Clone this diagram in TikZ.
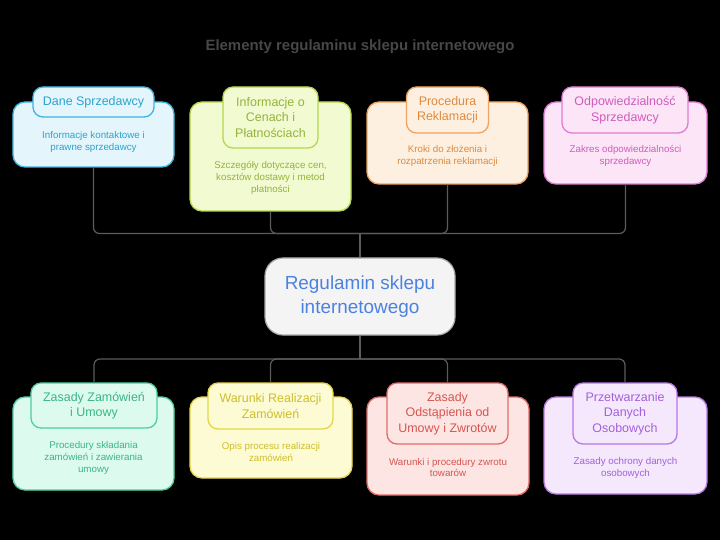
\documentclass[tikz,border=0pt]{standalone}
\usepackage{fontspec}
\setmainfont{Liberation Sans}
\usetikzlibrary{positioning}
\definecolor{bluesoft}{HTML}{E4F6FC}
\definecolor{blueline}{HTML}{3DB5DE}
\definecolor{bluetext}{HTML}{2AA3CF}
\definecolor{limesoft}{HTML}{F2FAD2}
\definecolor{limeline}{HTML}{B5D64E}
\definecolor{limetext}{HTML}{93B43A}
\definecolor{orangesoft}{HTML}{FEF0E0}
\definecolor{orangeline}{HTML}{EFA35E}
\definecolor{orangetext}{HTML}{DE8A40}
\definecolor{pinksoft}{HTML}{FCE5F7}
\definecolor{pinkline}{HTML}{E27CD2}
\definecolor{pinktext}{HTML}{CF5CBD}
\definecolor{mintsoft}{HTML}{DDFAEF}
\definecolor{mintline}{HTML}{4ED09E}
\definecolor{minttext}{HTML}{3BB585}
\definecolor{yellowsoft}{HTML}{FDFBD3}
\definecolor{yellowline}{HTML}{E6D54C}
\definecolor{yellowtext}{HTML}{CDBE2E}
\definecolor{salmonsoft}{HTML}{FDE5E3}
\definecolor{salmonline}{HTML}{E06C68}
\definecolor{salmontext}{HTML}{D65550}
\definecolor{lavsoft}{HTML}{F5E8FD}
\definecolor{lavline}{HTML}{B679E6}
\definecolor{lavtext}{HTML}{A160DC}
\definecolor{hubsoft}{HTML}{F4F4F4}
\definecolor{hubline}{HTML}{A8A8A8}
\definecolor{hubtext}{HTML}{4C82DF}
\definecolor{linegrey}{HTML}{5C5C5C}
\definecolor{ttlgrey}{HTML}{474747}

\begin{document}
\begin{tikzpicture}[x=1bp, y=-1bp,
        card/.style={draw, rounded corners=12bp, line width=1.3bp, inner sep=0pt, minimum width=161bp},
        tab/.style={card, rounded corners=10bp, align=center, font=\fontsize{12.5}{15.5}\selectfont},
        desc/.style={align=center, font=\fontsize{9.8}{12}\selectfont},
        hub/.style={draw=hubline, fill=hubsoft, text=hubtext, rounded corners=18bp, line width=1.2bp, align=center, font=\fontsize{19}{24}\selectfont, minimum width=190bp, minimum height=77bp},
        ttl/.style={font=\fontsize{15}{18}\selectfont\bfseries, text=ttlgrey},
        conn/.style={draw=linegrey, line width=1.2bp, rounded corners=6bp},
        bluec/.style={fill=bluesoft, draw=blueline, text=bluetext},
        limec/.style={fill=limesoft, draw=limeline, text=limetext},
        orangec/.style={fill=orangesoft, draw=orangeline, text=orangetext},
        pinkc/.style={fill=pinksoft, draw=pinkline, text=pinktext},
        mintc/.style={fill=mintsoft, draw=mintline, text=minttext},
        yellowc/.style={fill=yellowsoft, draw=yellowline, text=yellowtext},
        salmonc/.style={fill=salmonsoft, draw=salmonline, text=salmontext},
        lavc/.style={fill=lavsoft, draw=lavline, text=lavtext}]
      \useasboundingbox (0,0) rectangle (720,540);
      \fill[black] (0,0) rectangle (720,540);
      \node[ttl] (title) at (360,47) {Elementy regulaminu sklepu internetowego};
      % upper row
      \node[card, bluec, minimum height=65bp] (dane) at (93.5,134.5) {};
      \node[tab, bluec, minimum width=121bp, minimum height=30bp] (danet) at (93.5,102) {Dane Sprzedawcy};
      \node[desc, text=bluetext] (daned) at (93.5,141.5) {Informacje kontaktowe i\\ prawne sprzedawcy};
      \node[card, limec, minimum height=109bp] (ceny) at (270.5,156.5) {};
      \node[tab, limec, minimum width=95bp, minimum height=61bp] (cenyt) at (270.5,117.5) {Informacje o\\ Cenach i\\ Płatnościach};
      \node[desc, text=limetext] (cenyd) at (270.5,178) {Szczegóły dotyczące cen,\\ kosztów dostawy i metod\\ płatności};
      \node[card, orangec, minimum height=82bp] (rekl) at (447.5,143) {};
      \node[tab, orangec, minimum width=82bp, minimum height=46bp] (reklt) at (447.5,110) {Procedura\\ Reklamacji};
      \node[desc, text=orangetext] (rekld) at (447.5,156) {Kroki do złożenia i\\ rozpatrzenia reklamacji};
      \node[card, pinkc, minimum width=163bp, minimum height=82bp] (odp) at (625.5,143) {};
      \node[tab, pinkc, minimum width=126bp, minimum height=46bp] (odpt) at (625,110) {Odpowiedzialność\\ Sprzedawcy};
      \node[desc, text=pinktext] (odpd) at (625.5,156) {Zakres odpowiedzialności\\ sprzedawcy};
      % centre
      \node[hub] (reg) at (360,296.5) {Regulamin sklepu\\ internetowego};
      % lower row
      \node[card, mintc, minimum height=93bp] (zam) at (93.5,443.5) {};
      \node[tab, mintc, minimum width=126bp, minimum height=45bp] (zamt) at (94,405.5) {Zasady Zamówień\\ i Umowy};
      \node[desc, text=minttext] (zamd) at (93.5,458) {Procedury składania\\ zamówień i zawierania\\ umowy};
      \node[card, yellowc, minimum width=162bp, minimum height=81bp] (real) at (271,437.5) {};
      \node[tab, yellowc, minimum width=125bp, minimum height=46bp] (realt) at (270.5,406) {Warunki Realizacji\\ Zamówień};
      \node[desc, text=yellowtext] (reald) at (271,452) {Opis procesu realizacji\\ zamówień};
      \node[card, salmonc, minimum width=162bp, minimum height=98bp] (zwr) at (448,446) {};
      \node[tab, salmonc, minimum width=121bp, minimum height=61bp] (zwrt) at (447.5,413.5) {Zasady\\ Odstąpienia od\\ Umowy i Zwrotów};
      \node[desc, text=salmontext] (zwrd) at (448,467.5) {Warunki i procedury zwrotu\\ towarów};
      \node[card, lavc, minimum width=163bp, minimum height=97bp] (dane2) at (625.5,445.5) {};
      \node[tab, lavc, minimum width=104bp, minimum height=61bp] (dane2t) at (625,413.5) {Przetwarzanie\\ Danych\\ Osobowych};
      \node[desc, text=lavtext] (dane2d) at (625.5,467.5) {Zasady ochrony danych\\ osobowych};
      % connectors
      \coordinate (upbus) at (360,233.5);
      \coordinate (lowbus) at (360,359);
      \foreach \c in {dane,ceny,rekl,odp}
        \draw[conn] (\c.south) |- (upbus);
      \draw[conn] (upbus) -- (reg.north);
      \foreach \c in {zamt,realt,zwrt,dane2t}
        \draw[conn] (\c.north) |- (lowbus);
      \draw[conn] (lowbus) -- (reg.south);
    \end{tikzpicture}
\end{document}
